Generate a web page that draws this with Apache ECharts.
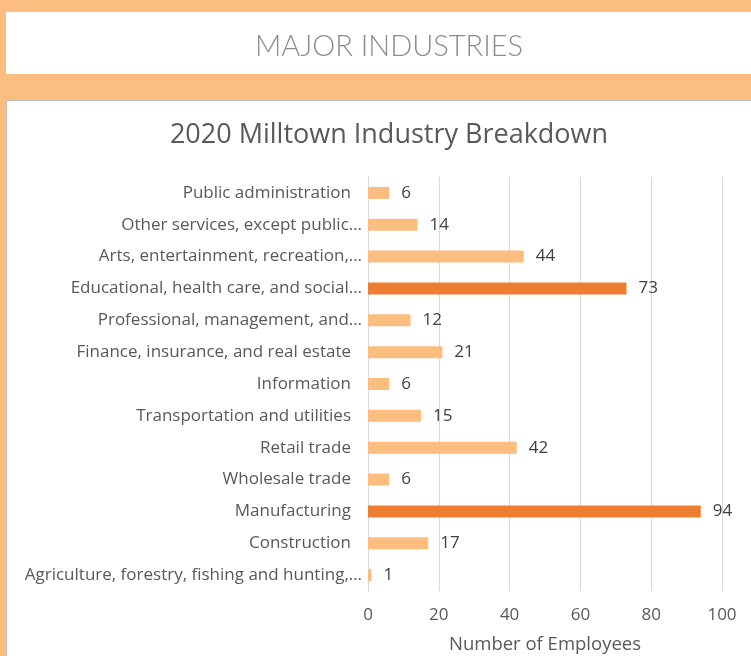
<!DOCTYPE html>
<html>
<head>
<meta charset="utf-8">
<script src="https://cdn.jsdelivr.net/npm/echarts@6/dist/echarts.min.js"></script>
<style>
  html, body { margin: 0; padding: 0; background: #FBBD80; }
  #chart { width: 751px; height: 656px; }
</style>
</head>
<body>
<div id="chart"></div>
<script>
// Industry categories, listed bottom to top as the axis draws them
const categories = [
  'Agriculture, forestry, fishing and hunting,…',
  'Construction',
  'Manufacturing',
  'Wholesale trade',
  'Retail trade',
  'Transportation and utilities',
  'Information',
  'Finance, insurance, and real estate',
  'Professional, management, and…',
  'Educational, health care, and social…',
  'Arts, entertainment, recreation,…',
  'Other services, except public…',
  'Public administration'
];
// Employees per industry
const employees = [1, 17, 94, 6, 42, 15, 6, 21, 12, 73, 44, 14, 6];
// Industries drawn in the darker accent colour
const highlighted = ['Manufacturing', 'Educational, health care, and social…'];
// Value axis ticks
const xTicks = [0, 20, 40, 60, 80, 100];

const LIGHT = '#FBBD80';
const DARK = '#ED7D31';
const TEXT = '#595959';
const FONT = '"Open Sans", "Noto Sans", sans-serif';

const chart = echarts.init(document.getElementById('chart'));
chart.setOption({
  backgroundColor: LIGHT,
  animation: false,
  graphic: [
    { type: 'rect', shape: { x: 6, y: 12, width: 760, height: 62 }, style: { fill: '#ffffff' }, z: -10 },
    { type: 'rect', shape: { x: 6.5, y: 100.5, width: 760, height: 600 }, style: { fill: '#ffffff', stroke: '#bfbfbf', lineWidth: 1 }, z: -10 }
  ],
  title: [
    {
      text: 'MAJOR INDUSTRIES',
      left: 384, top: 27, textAlign: 'center',
      textStyle: { fontFamily: 'Lato, "Open Sans", sans-serif', fontWeight: 300, fontSize: 29, color: '#8c8c8c' }
    },
    {
      text: '2020 Milltown Industry Breakdown',
      left: 384, top: 117, textAlign: 'center',
      textStyle: { fontFamily: FONT, fontWeight: 'normal', fontSize: 27, color: TEXT }
    }
  ],
  grid: { left: 368, right: 29, top: 177, bottom: 65, containLabel: false, outerBoundsMode: 'none' },
  xAxis: {
    type: 'value',
    min: xTicks[0],
    max: xTicks[xTicks.length - 1],
    interval: xTicks[1] - xTicks[0],
    name: 'Number of Employees',
    nameLocation: 'middle',
    nameGap: 44,
    nameTextStyle: { fontFamily: FONT, fontSize: 18.5, color: TEXT },
    axisLine: { show: false },
    axisTick: { show: false },
    axisLabel: { fontFamily: FONT, fontSize: 17, color: TEXT, margin: 16 },
    splitLine: { lineStyle: { color: '#d9d9d9', width: 1 } }
  },
  yAxis: {
    type: 'category',
    data: categories,
    axisLine: { show: true, lineStyle: { color: '#d9d9d9' } },
    axisTick: { show: false },
    axisLabel: {
      margin: 6,
      formatter: v => v.endsWith('…') ? '{e|' + v + '}' : '{n|' + v + '}',
      rich: {
        e: { fontFamily: FONT, fontSize: 17, color: TEXT },
        n: { fontFamily: FONT, fontSize: 17, color: TEXT, padding: [0, 11, 0, 0] }
      }
    }
  },
  series: [{
    type: 'bar',
    barWidth: 12,
    data: employees.map((v, i) => ({
      value: v,
      itemStyle: { color: highlighted.includes(categories[i]) ? DARK : LIGHT }
    })),
    label: {
      show: true,
      position: 'right',
      distance: 12,
      fontFamily: FONT,
      fontSize: 17,
      color: '#404040'
    }
  }]
});
</script>
</body>
</html>
